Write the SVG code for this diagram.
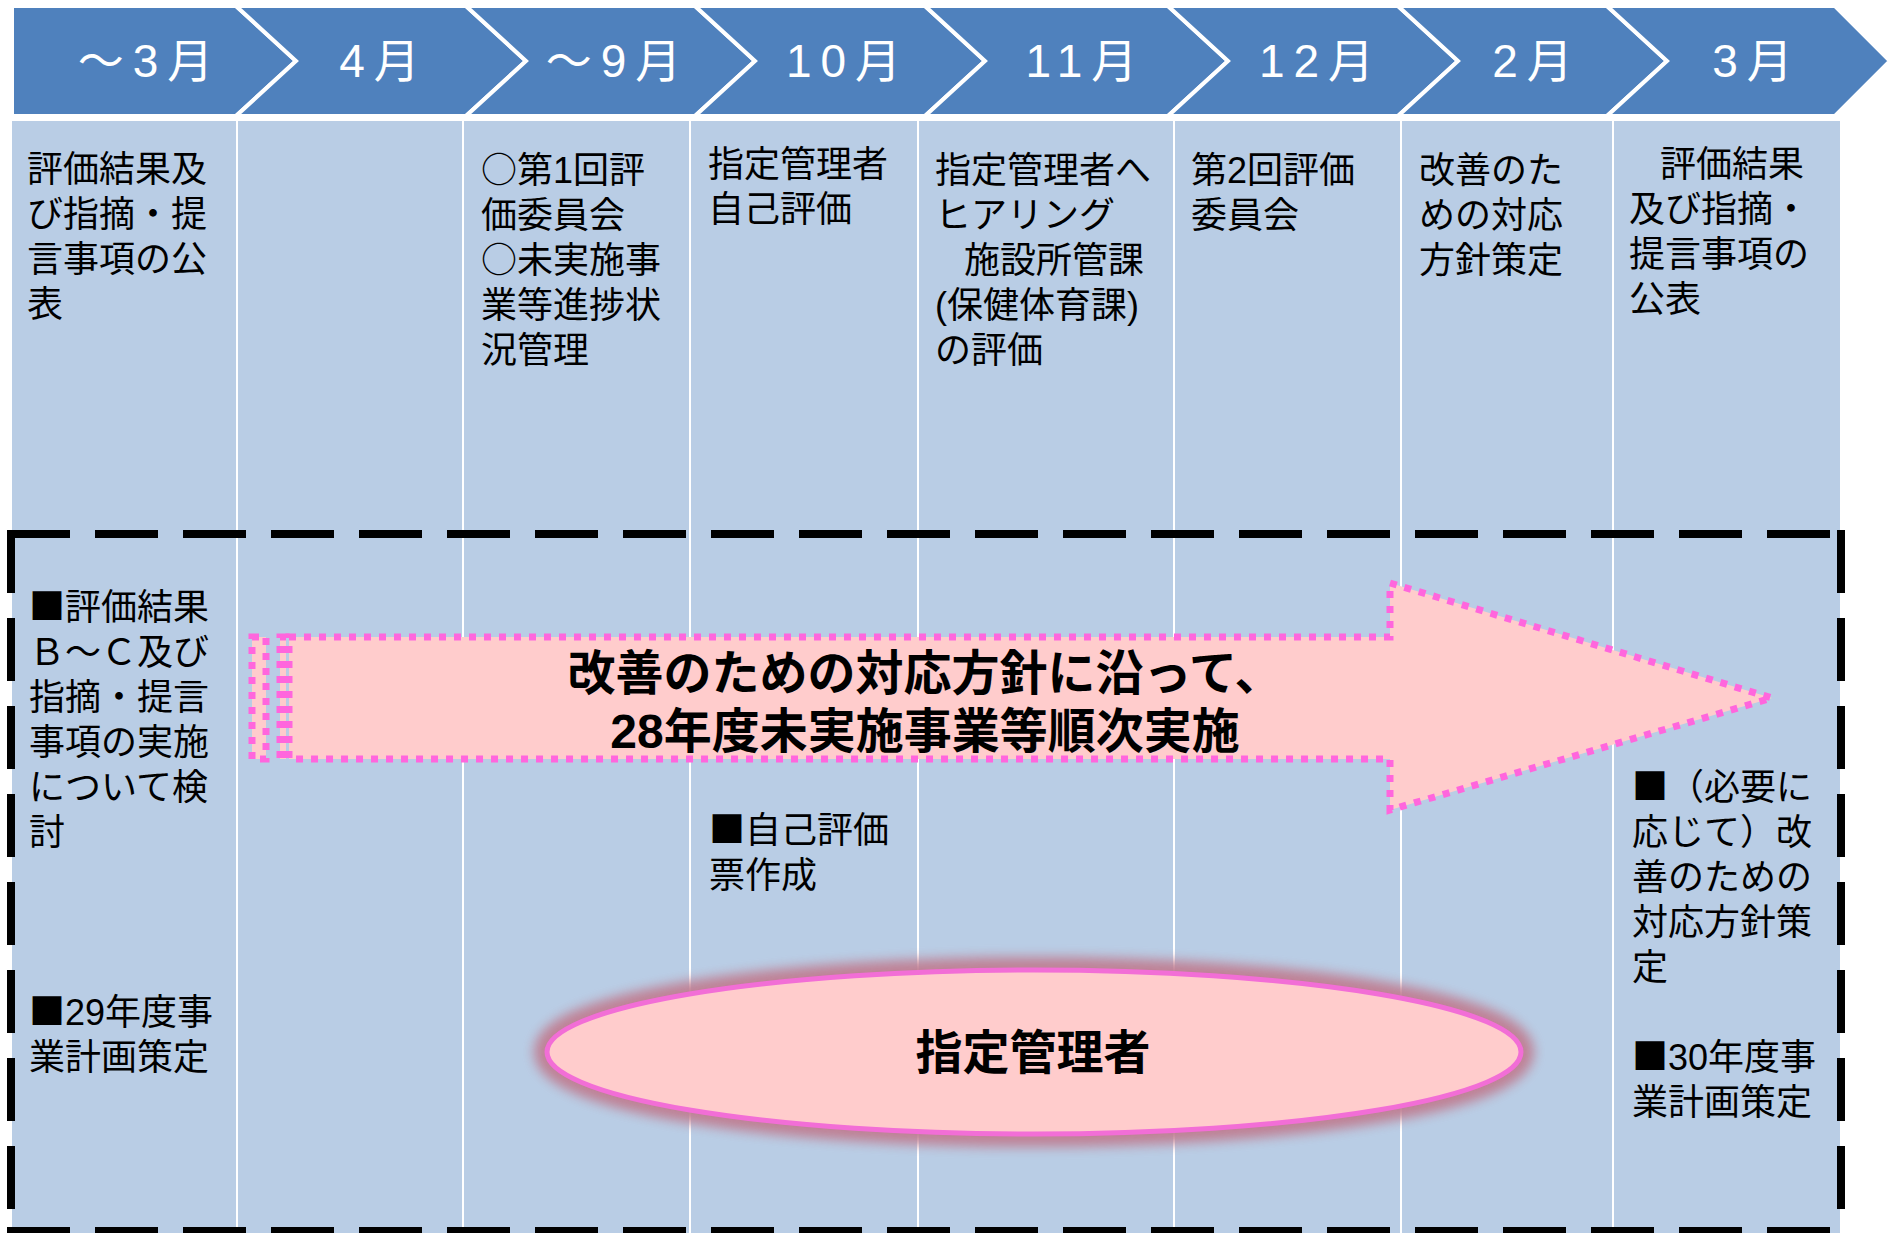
<svg xmlns="http://www.w3.org/2000/svg" width="1896" height="1233" viewBox="0 0 1896 1233">
<defs>
<style>
.hdr{fill:#4F81BD;stroke:#FFFFFF;stroke-width:4;stroke-linejoin:miter}
.hl{font-family:"Liberation Sans","Noto Sans CJK JP",sans-serif;font-size:46px;fill:#FFFFFF;text-anchor:middle;letter-spacing:9px}
.t{font-family:"Liberation Sans","Noto Sans CJK JP",sans-serif;font-size:36px;fill:#000000}
.cj{font-family:"Noto Sans CJK JP",sans-serif}
.div{stroke:#FFFFFF;stroke-width:2}
.dash{stroke:#000000;stroke-width:8;stroke-dasharray:63 25;fill:none}
.arr{fill:#FFCCCC;stroke:#FF66DD;stroke-width:7;stroke-dasharray:7 8}
.big{font-family:"Liberation Sans","Noto Sans CJK JP",sans-serif;font-size:48px;font-weight:bold;fill:#000000;text-anchor:middle}
</style>
<filter id="glow" x="-10%" y="-50%" width="120%" height="200%">
<feGaussianBlur stdDeviation="6"/>
</filter>
</defs>
<rect width="1896" height="1233" fill="#FFFFFF"/>

<g id="background">
<rect x="12" y="121" width="1828" height="1112" fill="#B9CDE5"/>
<line class="div" x1="237" y1="121" x2="237" y2="1233"/>
<line class="div" x1="463" y1="121" x2="463" y2="1233"/>
<line class="div" x1="690" y1="121" x2="690" y2="1233"/>
<line class="div" x1="918" y1="121" x2="918" y2="1233"/>
<line class="div" x1="1174" y1="121" x2="1174" y2="1233"/>
<line class="div" x1="1401" y1="121" x2="1401" y2="1233"/>
<line class="div" x1="1613" y1="121" x2="1613" y2="1233"/>
</g>

<g id="header">
<polygon class="hdr" points="12,6 236,6 296,61 236,116 12,116"/>
<polygon class="hdr" points="236,6 466,6 526,61 466,116 236,116 296,61"/>
<polygon class="hdr" points="466,6 695,6 755,61 695,116 466,116 526,61"/>
<polygon class="hdr" points="695,6 925,6 985,61 925,116 695,116 755,61"/>
<polygon class="hdr" points="925,6 1168,6 1228,61 1168,116 925,116 985,61"/>
<polygon class="hdr" points="1168,6 1398,6 1458,61 1398,116 1168,116 1228,61"/>
<polygon class="hdr" points="1398,6 1607,6 1667,61 1607,116 1398,116 1458,61"/>
<polygon class="hdr" points="1607,6 1835,6 1890,61 1835,116 1607,116 1667,61"/>
<text class="hl" x="150" y="77">～3月</text>
<text class="hl" x="384" y="77">4月</text>
<text class="hl" x="618" y="77">～9月</text>
<text class="hl" x="848" y="77">10月</text>
<text class="hl" x="1086" y="77">11月</text>
<text class="hl" x="1321" y="77">12月</text>
<text class="hl" x="1537" y="77">2月</text>
<text class="hl" x="1757" y="77">3月</text>
</g>

<g id="col1-top" class="t">
<text x="27" y="182">評価結果及</text>
<text x="27" y="227">び指摘・提</text>
<text x="27" y="272">言事項の公</text>
<text x="27" y="317">表</text>
</g>
<g id="col3-top" class="t">
<text x="481" y="183"><tspan class="cj">○</tspan>第1回評</text>
<text x="481" y="228">価委員会</text>
<text x="481" y="273"><tspan class="cj">○</tspan>未実施事</text>
<text x="481" y="318">業等進捗状</text>
<text x="481" y="363">況管理</text>
</g>
<g id="col4-top" class="t">
<text x="708" y="177">指定管理者</text>
<text x="708" y="222">自己評価</text>
</g>
<g id="col5-top" class="t">
<text x="935" y="183">指定管理者へ</text>
<text x="935" y="228">ヒアリング</text>
<text x="964" y="273">施設所管課</text>
<text x="935" y="318">(保健体育課)</text>
<text x="935" y="363">の評価</text>
</g>
<g id="col6-top" class="t">
<text x="1191" y="183">第2回評価</text>
<text x="1191" y="228">委員会</text>
</g>
<g id="col7-top" class="t">
<text x="1419" y="183">改善のた</text>
<text x="1419" y="228">めの対応</text>
<text x="1419" y="273">方針策定</text>
</g>
<g id="col8-top" class="t">
<text x="1660" y="177">評価結果</text>
<text x="1629" y="222">及び指摘・</text>
<text x="1629" y="267">提言事項の</text>
<text x="1629" y="312">公表</text>
</g>

<g id="frame">
<line class="dash" x1="7" y1="534" x2="1845" y2="534"/>
<line class="dash" x1="7" y1="1231" x2="1845" y2="1231"/>
<line class="dash" x1="11" y1="530" x2="11" y2="1235"/>
<line class="dash" x1="1841" y1="530" x2="1841" y2="1235"/>
</g>

<g id="arrow">
<rect class="arr" x="252" y="637" width="14" height="122"/>
<rect class="arr" x="280" y="637" width="6" height="122"/>
<polygon class="arr" points="289,637 1390,637 1390,583 1772,698 1390,810 1390,759 289,759"/>
<text class="big" x="925" y="690">改善のための対応方針に沿って、</text>
<text class="big" x="925" y="748">28年度未実施事業等順次実施</text>
</g>

<g id="col1-bottom" class="t">
<text x="29" y="620"><tspan class="cj">■</tspan>評価結果</text>
<text x="29" y="665">Ｂ～Ｃ及び</text>
<text x="29" y="710">指摘・提言</text>
<text x="29" y="755">事項の実施</text>
<text x="29" y="800">について検</text>
<text x="29" y="845">討</text>
<text x="29" y="1025"><tspan class="cj">■</tspan>29年度事</text>
<text x="29" y="1070">業計画策定</text>
</g>
<g id="col4-bottom" class="t">
<text x="709" y="843"><tspan class="cj">■</tspan>自己評価</text>
<text x="709" y="888">票作成</text>
</g>
<g id="col8-bottom" class="t">
<text x="1632" y="800"><tspan class="cj">■</tspan>（必要に</text>
<text x="1632" y="845">応じて）改</text>
<text x="1632" y="890">善のための</text>
<text x="1632" y="935">対応方針策</text>
<text x="1632" y="980">定</text>
<text x="1632" y="1070"><tspan class="cj">■</tspan>30年度事</text>
<text x="1632" y="1115">業計画策定</text>
</g>

<g id="manager">
<ellipse cx="1034" cy="1052" rx="487" ry="82" fill="none" stroke="#BF7E92" stroke-width="26" opacity="0.95" filter="url(#glow)"/>
<ellipse cx="1034" cy="1052" rx="487" ry="82" fill="#FFCCCC" stroke="#F26ED6" stroke-width="5"/>
<text class="big" x="1033" y="1069" style="font-size:47px">指定管理者</text>
</g>
</svg>
